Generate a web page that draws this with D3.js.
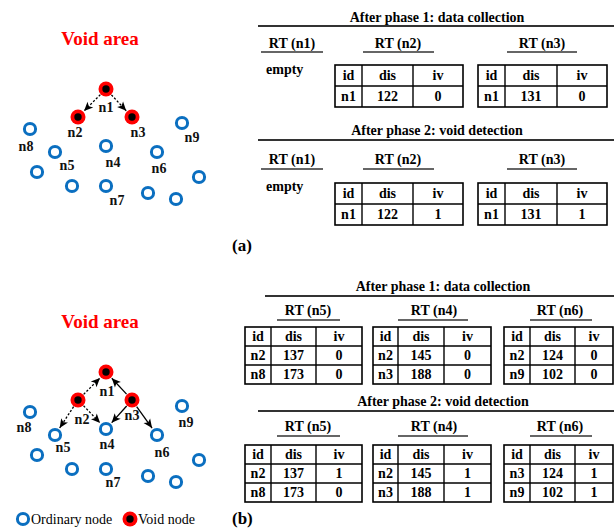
<!DOCTYPE html>
<html><head><meta charset="utf-8">
<script src="https://cdn.jsdelivr.net/npm/d3@7"></script>
<style>html,body{margin:0;padding:0;background:#fff}svg{display:block}</style>
</head><body>
<script>
// ---- network field: node names and their positions in the field ----
const nodeNames = ["n1","n2","n3","n4","n5","n6","n7","n8","n9","u1","u2","u3","u4","u5"];
const nodeX     = [106, 78, 132, 106, 55, 157, 106, 30, 182, 37, 72, 148, 176, 199];
const nodeY     = [ 89, 117, 117, 146, 152, 152, 186, 129, 123, 172, 186, 193, 199, 177];
const voidNodes = ["n1","n2","n3"];

// routing messages drawn as arrows: [from, to, dashed]
const arrowsA = [["n1","n2",true],["n1","n3",true]];
const arrowsB = [["n2","n1",true],["n2","n5",true],["n2","n4",true],
                 ["n3","n1",false],["n3","n4",false],["n3","n6",false]];

// ---- routing tables ----
const phaseTitles = ["After phase 1: data collection","After phase 2: void detection"];
const tableHeader = ["id","dis","iv"];
const rtNamesA = ["RT (n1)","RT (n2)","RT (n3)"];
const rtNamesB = ["RT (n5)","RT (n4)","RT (n6)"];
const emptyText = "empty";
// panel (a)
const rtA1 = [null, [["n1",122,0]], [["n1",131,0]]];
const rtA2 = [null, [["n1",122,1]], [["n1",131,1]]];
// panel (b)
const rtB1 = [[["n2",137,0],["n8",173,0]], [["n2",145,0],["n3",188,0]], [["n2",124,0],["n9",102,0]]];
const rtB2 = [[["n2",137,1],["n8",173,0]], [["n2",145,1],["n3",188,1]], [["n3",124,1],["n9",102,1]]];
const panelLabels = ["(a)","(b)"];
const legendLabels = ["Ordinary node","Void node"];
const fieldTitle = "Void area";

const W = 614, H = 529;
const FONT = "'Liberation Serif','Times New Roman',serif";
const BLUE = "#0b6fc0", RED = "#ff0000";
const FS = 14;

const svg = d3.select("body").append("svg")
  .attr("width", W).attr("height", H)
  .style("font-family", FONT);

svg.append("defs").append("marker")
  .attr("id","arrow").attr("viewBox","0 -5 10 10")
  .attr("refX",10).attr("refY",0)
  .attr("markerWidth",10).attr("markerHeight",9)
  .attr("markerUnits","userSpaceOnUse")
  .attr("orient","auto")
  .append("path").attr("d","M0,-4.5L10,0L0,4.5L2.5,0Z").attr("fill","#000");

// ---------- network panels ----------
const fx = d3.scaleLinear().domain([0, 230]).range([0, 230]);
const panelYOffset = [0, 283];

// label offsets (text centre relative to node centre), one set per panel
const labelOffA = {n1:[0,18],n2:[-3,15],n3:[6,15],n4:[7,16],n5:[12,13],n6:[2,16],n7:[11,14],n8:[-4,17],n9:[10,14]};
const labelOffB = {n1:[1,19],n2:[4,19],n3:[0,15],n4:[1,15],n5:[8,12],n6:[5,17],n7:[7,13],n8:[-6,15],n9:[4,16]};

function drawField(pi, arrows, labelOff) {
  const fy = d3.scaleLinear().domain([0, 230]).range([panelYOffset[pi], panelYOffset[pi] + 230]);
  const g = svg.append("g");
  const pos = {};
  nodeNames.forEach((n, i) => pos[n] = [fx(nodeX[i]), fy(nodeY[i])]);

  g.append("text").attr("x", fx(100)).attr("y", fy(45))
    .attr("text-anchor","middle").attr("font-size",19).attr("font-weight","bold")
    .attr("fill", RED).text(fieldTitle);

  // arrows
  arrows.forEach(([a, b, dashed]) => {
    const [x1, y1] = pos[a], [x2, y2] = pos[b];
    const d = Math.hypot(x2 - x1, y2 - y1), ux = (x2 - x1) / d, uy = (y2 - y1) / d;
    g.append("line")
      .attr("x1", x1 + ux * 8).attr("y1", y1 + uy * 8)
      .attr("x2", x2 - ux * 8.5).attr("y2", y2 - uy * 8.5)
      .attr("stroke","#000").attr("stroke-width",1.3)
      .attr("stroke-dasharray", dashed ? "2.2,1.8" : null)
      .attr("marker-end","url(#arrow)");
  });

  // nodes
  nodeNames.forEach(n => {
    const [x, y] = pos[n];
    if (voidNodes.includes(n)) {
      g.append("circle").attr("cx",x).attr("cy",y).attr("r",7.5).attr("fill",RED);
      g.append("circle").attr("cx",x).attr("cy",y).attr("r",3.7).attr("fill","#000");
    } else {
      g.append("circle").attr("cx",x).attr("cy",y).attr("r",5.6)
        .attr("fill","#fff").attr("stroke",BLUE).attr("stroke-width",3);
    }
    if (labelOff[n]) {
      g.append("text").attr("x", x + labelOff[n][0]).attr("y", y + labelOff[n][1] + 4.8)
        .attr("text-anchor","middle").attr("font-size",14).attr("font-weight","bold")
        .attr("fill","#111").text(n);
    }
  });
}
drawField(0, arrowsA, labelOffA);
drawField(1, arrowsB, labelOffB);

// legend
const lg = svg.append("g");
lg.append("circle").attr("cx",23).attr("cy",519).attr("r",5.6)
  .attr("fill","#fff").attr("stroke",BLUE).attr("stroke-width",3);
lg.append("text").attr("x",31).attr("y",524).attr("font-size",14).text(legendLabels[0]);
lg.append("circle").attr("cx",130).attr("cy",519).attr("r",7.5).attr("fill",RED);
lg.append("circle").attr("cx",130).attr("cy",519).attr("r",3.7).attr("fill","#000");
lg.append("text").attr("x",138).attr("y",524).attr("font-size",14).text(legendLabels[1]);

// ---------- routing tables ----------
function drawTable(g, cols, top, rowH, rows) {
  const allRows = [tableHeader].concat(rows);
  const bottom = top + rowH * allRows.length;
  allRows.forEach((r, ri) => {
    r.forEach((v, ci) => {
      g.append("text")
        .attr("x", (cols[ci] + cols[ci + 1]) / 2)
        .attr("y", top + rowH * ri + rowH / 2 + 4.8)
        .attr("text-anchor","middle").attr("font-size",FS).attr("font-weight","bold")
        .text(v);
    });
  });
  g.append("rect").attr("x",cols[0]).attr("y",top)
    .attr("width",cols[cols.length - 1] - cols[0]).attr("height",bottom - top)
    .attr("fill","none").attr("stroke","#000").attr("stroke-width",1.6);
  for (let i = 1; i < allRows.length; i++)
    g.append("line").attr("x1",cols[0]).attr("x2",cols[cols.length - 1])
      .attr("y1",top + rowH * i).attr("y2",top + rowH * i)
      .attr("stroke","#000").attr("stroke-width",1.4);
  for (let i = 1; i < cols.length - 1; i++)
    g.append("line").attr("x1",cols[i]).attr("x2",cols[i])
      .attr("y1",top).attr("y2",bottom)
      .attr("stroke","#000").attr("stroke-width",1.4);
}

function drawPhase(cfg, title, names, tables) {
  const g = svg.append("g");
  g.append("text").attr("x",cfg.titleX).attr("y",cfg.titleY)
    .attr("text-anchor","middle").attr("font-size",FS).attr("font-weight","bold").text(title);
  g.append("line").attr("x1",cfg.ruleX0).attr("x2",W).attr("y1",cfg.ruleY).attr("y2",cfg.ruleY)
    .attr("stroke","#333").attr("stroke-width",2);
  cfg.blocks.forEach((b, i) => {
    g.append("text").attr("x",b.cx).attr("y",cfg.rtY)
      .attr("text-anchor","middle").attr("font-size",FS).attr("font-weight","bold").text(names[i]);
    g.append("line").attr("x1",b.ul[0]).attr("x2",b.ul[1]).attr("y1",cfg.ulY).attr("y2",cfg.ulY)
      .attr("stroke","#333").attr("stroke-width",1.6);
    if (tables[i] === null) {
      g.append("text").attr("x",b.emptyX).attr("y",cfg.emptyY)
        .attr("font-size",FS).attr("font-weight","bold").text(emptyText);
    } else {
      drawTable(g, b.cols, cfg.tableTop, cfg.rowH, tables[i]);
    }
  });
}

const blocksA = [
  {cx:292, ul:[261,323], emptyX:266},
  {cx:398, ul:[363,434], cols:[335,362,413,463]},
  {cx:542, ul:[507,577], cols:[478,505,557,607]}
];
const blocksB = [
  {cx:308, ul:[277,340], cols:[245,271,316,362]},
  {cx:434, ul:[398,468], cols:[373,398,444,491]},
  {cx:560, ul:[530,592], cols:[504,530,575,613]}
];
// vertical layout of each phase block
const phaseA1 = {titleX:437, ruleX0:258, blocks:blocksA, rowH:21, titleY:22,  ruleY:26,  rtY:48,  ulY:52,  tableTop:65,  emptyY:74};
const phaseA2 = {titleX:437, ruleX0:258, blocks:blocksA, rowH:21, titleY:135, ruleY:140, rtY:164, ulY:169, tableTop:183, emptyY:191};
const phaseB1 = {titleX:443, ruleX0:265, blocks:blocksB, rowH:19, titleY:291, ruleY:296, rtY:315, ulY:320, tableTop:327};
const phaseB2 = {titleX:443, ruleX0:258, blocks:blocksB, rowH:19, titleY:406, ruleY:411, rtY:431, ulY:436, tableTop:445};
drawPhase(phaseA1, phaseTitles[0], rtNamesA, rtA1);
drawPhase(phaseA2, phaseTitles[1], rtNamesA, rtA2);
drawPhase(phaseB1, phaseTitles[0], rtNamesB, rtB1);
drawPhase(phaseB2, phaseTitles[1], rtNamesB, rtB2);

// panel captions
svg.append("text").attr("x",232).attr("y",251).attr("font-size",17).attr("font-weight","bold").text(panelLabels[0]);
svg.append("text").attr("x",232).attr("y",524).attr("font-size",17).attr("font-weight","bold").text(panelLabels[1]);
</script>
</body></html>
